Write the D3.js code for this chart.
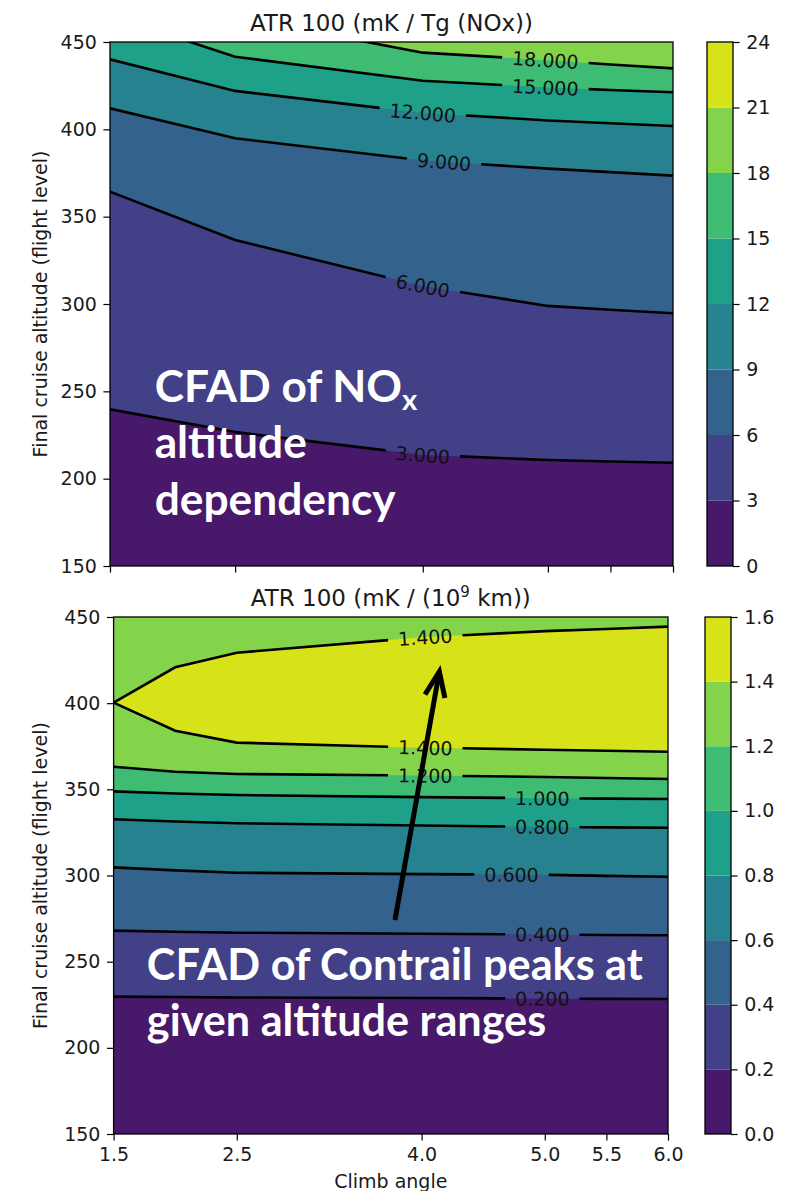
<!DOCTYPE html>
<html><head><meta charset="utf-8">
<script src="https://cdn.jsdelivr.net/npm/d3@7"></script>
<style>
body{margin:0;background:#fff;}
svg text{font-family:"DejaVu Sans",sans-serif;}
</style></head><body>
<svg id="chart" width="794" height="1191"></svg>
<script>
// ---------- shared axes ----------
const climbTicks=[1.5,2.5,4.0,5.0,5.5,6.0];
const altTicks=[150,200,250,300,350,400,450];

// ---------- ATR100 per Tg NOx : contour line altitudes at each climb angle ----------
const noxLevels=[0,3,6,9,12,15,18,21,24];
const noxClimb=[1.5,2.5,4.0,5.0,5.5,6.0];
const nox3 =[239.7,226.7,213.6,210.7,209.8,209.1];
const nox6 =[364.3,336.6,310.3,298.9,296.7,294.7];
const nox9 =[412.0,394.9,382.2,377.5,375.5,373.5];
const nox12=[440.1,422.0,409.4,405.1,403.5,401.9];
const nox15=[465.0,441.6,427.8,424.0,422.5,421.2];
const nox18=[478.0,464.3,443.9,439.6,437.1,434.9];
const noxLabelClimb=[4.0,4.0,4.17,4.0,4.98,4.98];

// ---------- ATR100 per 1e9 km (contrails) ----------
const conLevels=[0,0.2,0.4,0.6,0.8,1.0,1.2,1.4,1.6];
const conClimb=[1.5,2.0,2.5,4.0,5.0,5.5,6.0];
const con02=[229.7,229.5,229.2,228.9,228.6,228.4,228.3];
const con04=[268.0,267.4,266.8,266.2,265.8,265.5,265.3];
const con06=[304.7,303.0,301.6,300.8,300.4,299.8,299.3];
const con08=[332.6,331.3,330.3,329.0,328.2,327.9,327.7];
const con10=[348.8,347.6,346.7,345.5,344.8,344.6,344.4];
const con12=[363.1,360.2,358.9,358.0,357.2,356.6,356.0];
const con14Upper=[400.3,420.8,429.3,438.2,441.8,443.0,444.4];
const con14Lower=[400.3,384.0,377.1,374.2,373.0,372.4,371.8];
const conLabelClimb=[4.98,4.98,4.73,4.98,4.98,4.03,4.03,4.03];

const svg=d3.select("#chart");
const FS=19, TICK=6.6, TXT="#1a1a1a";
const defs=svg.append("defs");

function interpAt(pts,xv){
  for(let i=0;i<pts.length-1;i++){
    const [x0,y0]=pts[i],[x1,y1]=pts[i+1];
    if(xv>=x0&&xv<=x1) return [xv,y0+(y1-y0)*(xv-x0)/(x1-x0)];
  }
  return null;
}

function panel(o){
  const x=d3.scaleLinear().domain([1.5,6.0]).range([o.x0,o.x1]);
  const y=d3.scaleLinear().domain([150,450]).range([o.y1,o.y0]);
  const nb=o.levels.length-1;
  const color=i=>d3.interpolateViridis((i+0.5)/nb);
  defs.append("clipPath").attr("id","clip"+o.id).append("rect")
    .attr("x",o.x0).attr("y",o.y0).attr("width",o.x1-o.x0).attr("height",o.y1-o.y0);
  const g=svg.append("g").attr("clip-path",`url(#clip${o.id})`);
  g.append("rect").attr("x",o.x0).attr("y",o.y0).attr("width",o.x1-o.x0).attr("height",o.y1-o.y0).attr("fill",color(0));
  o.fills.forEach(f=>{
    const area=d3.area()
      .x((d,i)=>x(o.climb[i]))
      .y0((d,i)=>y(f.lower[i]))
      .y1((d,i)=>f.upper?y(f.upper[i]):y(450));
    g.append("path").attr("d",area(f.lower)).attr("fill",color(f.band));
  });
  const lineGen=d3.line();
  const lg=svg.append("g");
  o.lines.forEach(L=>{
    const pts=o.climb.map((c,i)=>[x(c),y(L.alts[i])]);
    const txt=lg.append("text").text(d3.format(".3f")(L.level))
      .attr("font-size",FS).attr("fill","#111").attr("text-anchor","middle").attr("dominant-baseline","central");
    const w=txt.node().getComputedTextLength();
    const cx=x(L.at), half=w/2+10;
    const a=interpAt(pts,cx-half), b=interpAt(pts,cx+half), c=interpAt(pts,cx);
    const left=pts.filter(p=>p[0]<a[0]).concat([a]);
    const right=[b].concat(pts.filter(p=>p[0]>b[0]));
    [left,right].forEach(seg=>{
      g.append("path").attr("d",lineGen(seg)).attr("fill","none").attr("stroke","#000").attr("stroke-width",2.6);
    });
    const ang=Math.atan2(b[1]-a[1],b[0]-a[0])*180/Math.PI;
    txt.attr("transform",`translate(${cx},${c[1]}) rotate(${ang})`);
  });
  lg.raise();
  // frame
  svg.append("rect").attr("x",o.x0).attr("y",o.y0).attr("width",o.x1-o.x0).attr("height",o.y1-o.y0)
    .attr("fill","none").attr("stroke","#000").attr("stroke-width",1.3);
  // axes
  const ya=svg.append("g").attr("transform",`translate(${o.x0},0)`)
    .call(d3.axisLeft(y).tickValues(altTicks).tickSize(TICK).tickPadding(TICK).tickSizeOuter(0).tickFormat(d3.format("d")));
  const xa=svg.append("g").attr("transform",`translate(0,${o.y1})`)
    .call(d3.axisBottom(x).tickValues(climbTicks).tickSize(TICK).tickPadding(TICK).tickSizeOuter(0).tickFormat(o.xLabels?d3.format(".1f"):()=>""));
  [ya,xa].forEach(a=>{a.select(".domain").remove();a.selectAll("line").attr("stroke","#000").attr("stroke-width",1.2);
    a.selectAll("text").attr("font-size",FS).attr("font-family","DejaVu Sans").attr("fill",TXT);});
  // y label
  svg.append("text").attr("transform",`translate(47,${(o.y0+o.y1)/2}) rotate(-90)`)
    .attr("text-anchor","middle").attr("font-size",FS).attr("fill",TXT).text("Final cruise altitude (flight level)");
  // title
  const t=svg.append("text").attr("x",(o.x0+o.x1)/2).attr("y",o.y0-11.5).attr("text-anchor","middle").attr("font-size",23).attr("fill",TXT);
  o.title(t);
  // colorbar
  const cy=d3.scaleLinear().domain([o.levels[0],o.levels[nb]]).range([o.y1,o.y0]);
  const cb=svg.append("g");
  d3.range(nb).forEach(i=>{
    cb.append("rect").attr("x",o.cb0).attr("width",o.cb1-o.cb0)
      .attr("y",cy(o.levels[i+1])).attr("height",cy(o.levels[i])-cy(o.levels[i+1])).attr("fill",color(i));
  });
  cb.append("rect").attr("x",o.cb0).attr("y",o.y0).attr("width",o.cb1-o.cb0).attr("height",o.y1-o.y0)
    .attr("fill","none").attr("stroke","#000").attr("stroke-width",1.3);
  const ca=svg.append("g").attr("transform",`translate(${o.cb1},0)`)
    .call(d3.axisRight(cy).tickValues(o.levels).tickSize(TICK).tickPadding(TICK).tickSizeOuter(0).tickFormat(o.fmt));
  ca.select(".domain").remove();
  ca.selectAll("line").attr("stroke","#000").attr("stroke-width",1.2);
  ca.selectAll("text").attr("font-size",FS).attr("font-family","DejaVu Sans").attr("fill",TXT);
  return {x,y};
}

const noxLines=[nox3,nox6,nox9,nox12,nox15,nox18];
const noxPanel=panel({
  id:"nox",x0:110,x1:673,y0:42,y1:566,cb0:707,cb1:733,
  levels:noxLevels,climb:noxClimb,xLabels:false,fmt:d3.format("d"),
  lines:noxLines.map((a,i)=>({alts:a,level:noxLevels[i+1],at:noxLabelClimb[i]})),
  fills:noxLines.map((a,i)=>({band:i+1,lower:a})),
  title:t=>t.text("ATR 100 (mK / Tg (NOx))")
});

const conLines=[con02,con04,con06,con08,con10,con12];
const conPanel=panel({
  id:"con",x0:113.6,x1:668,y0:617,y1:1134,cb0:705,cb1:731,
  levels:conLevels,climb:conClimb,xLabels:true,fmt:d3.format(".1f"),
  lines:conLines.map((a,i)=>({alts:a,level:conLevels[i+1],at:conLabelClimb[i]}))
    .concat([{alts:con14Upper,level:1.4,at:conLabelClimb[6]},{alts:con14Lower,level:1.4,at:conLabelClimb[7]}]),
  fills:conLines.map((a,i)=>({band:i+1,lower:a})).concat([{band:7,lower:con14Lower,upper:con14Upper}]),
  title:t=>{t.append("tspan").text("ATR 100 (mK / (10");
    t.append("tspan").attr("dy",-9).attr("font-size",15).text("9");
    t.append("tspan").attr("dy",9).text(" km))");}
});

// x label
svg.append("text").attr("x",(113.6+668)/2).attr("y",1188).attr("text-anchor","middle")
  .attr("font-size",FS).attr("fill",TXT).text("Climb angle");

// ---------- annotations ----------
function note(sc,climb,alt,lines,target,lineGap){
  const g=svg.append("g");
  const texts=lines.map((ln,i)=>{
    const t=g.append("text").attr("x",sc.x(climb)).attr("y",sc.y(alt)+i*lineGap)
      .attr("fill","#fff").attr("font-weight","bold").style("font-family","Lato, 'Open Sans', sans-serif").attr("font-size",40);
    ln.forEach(p=>{
      const s=t.append("tspan").text(p.t);
      if(p.sub) s.attr("class","sub");
    });
    return t;
  });
  const w=texts[target.line].node().getComputedTextLength();
  const fs=40*target.w/w;
  texts.forEach(t=>{
    t.attr("font-size",fs);
    t.selectAll(".sub").attr("font-size",fs*0.66).attr("dy",fs*0.2);
  });
}
note(noxPanel,1.857,244.1,[[{t:"CFAD of NO"},{t:"x",sub:true}],[{t:"altitude"}],[{t:"dependency"}]],{line:2,w:241},56.7);
note(conPanel,1.77,239.4,[[{t:"CFAD of Contrail peaks at"}],[{t:"given altitude ranges"}]],{line:0,w:496},56.5);

// arrow (in data units of the contrail panel)
const arrowTail=[3.784,274.2], arrowTip=[4.144,418.3];
(function(){
  const tx=conPanel.x(arrowTail[0]),ty=conPanel.y(arrowTail[1]),hx=conPanel.x(arrowTip[0]),hy=conPanel.y(arrowTip[1]);
  const dx=tx-hx,dy=ty-hy,len=Math.hypot(dx,dy),ux=dx/len,uy=dy/len;
  const arm=(th)=>{const c=Math.cos(th),s=Math.sin(th);return [hx+27*(ux*c-uy*s),hy+27*(ux*s+uy*c)];};
  const a1=arm(22*Math.PI/180),a2=arm(-22*Math.PI/180);
  svg.append("path").attr("d",`M${tx},${ty}L${hx},${hy}`).attr("stroke","#000").attr("stroke-width",5).attr("fill","none");
  svg.append("path").attr("d",`M${a1[0]},${a1[1]}L${hx},${hy}L${a2[0]},${a2[1]}`).attr("stroke","#000")
    .attr("stroke-width",5).attr("fill","none").attr("stroke-linejoin","miter");
})();
</script></body></html>
